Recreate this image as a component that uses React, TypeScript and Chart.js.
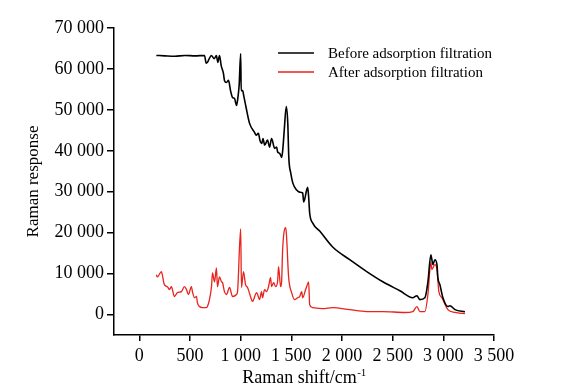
import React, { useEffect, useRef } from "react";
import { Chart, registerables } from "chart.js";

Chart.register(...registerables);

const FONT = "'Liberation Serif', 'Times New Roman', serif";

const seriesLabels = ["Before adsorption filtration", "After adsorption filtration"];
const seriesColors = ["#000000", "#e8221c"];

const xTicks = [0, 500, 1000, 1500, 2000, 2500, 3000, 3500];
const yTicks = [0, 10000, 20000, 30000, 40000, 50000, 60000, 70000];

const beforeShift = [
  168, 250, 350, 450, 550, 643, 660, 672, 690, 710, 740, 760, 775, 791, 808, 830, 840, 860, 880,
  900, 920, 939, 959, 969, 985, 1000, 1005, 1020, 1030, 1055, 1088, 1137, 1153, 1175, 1190, 1210,
  1220, 1237, 1265, 1285, 1305, 1335, 1355, 1365, 1385, 1405, 1415, 1430, 1450, 1465, 1475, 1495,
  1515, 1553, 1582, 1612, 1622, 1651, 1661, 1671, 1681, 1710, 1780, 1908, 2076, 2244, 2403, 2571,
  2699, 2739, 2768, 2818, 2848, 2877, 2897, 2917, 2937, 2946, 2966, 2996, 3045, 3065, 3115, 3213,
];
const beforeValues = [
  63300, 63200, 63100, 63300, 63200, 63300, 61400, 61600, 62500, 63300, 62500, 63300, 61600, 63300,
  60800, 58900, 57200, 56700, 57200, 54700, 53000, 52800, 51100, 52300, 56000, 63700, 54700, 54700,
  53500, 50400, 46700, 44500, 43800, 44300, 42600, 41800, 43000, 41400, 42600, 40900, 43000, 40600,
  40900, 39700, 39400, 38400, 40100, 45000, 50800, 46700, 38400, 34500, 32100, 30400, 29900, 29700,
  27500, 30400, 31100, 28700, 24800, 22400, 20400, 16500, 13400, 10500, 8000, 5800, 4100, 4600,
  3650, 4100, 8000, 14600, 12200, 13400, 12200, 9000, 7300, 4100, 1950, 2150, 1200, 700,
];

const afterShift = [
  168, 178, 218, 227, 247, 277, 297, 316, 346, 376, 415, 445, 465, 484, 514, 524, 544, 564, 573,
  593, 623, 662, 672, 692, 712, 722, 742, 761, 771, 791, 811, 821, 840, 860, 890, 920, 959, 969,
  1000, 1008, 1028, 1048, 1068, 1107, 1117, 1157, 1167, 1186, 1206, 1216, 1236, 1256, 1275, 1295,
  1305, 1325, 1345, 1364, 1374, 1394, 1404, 1414, 1445, 1453, 1473, 1503, 1532, 1562, 1582, 1602,
  1612, 1641, 1651, 1671, 1681, 1710, 1809, 1908, 2076, 2244, 2403, 2620, 2699, 2739, 2768, 2818,
  2848, 2877, 2887, 2917, 2937, 2956, 2986, 3045, 3115, 3213,
];
const afterValues = [
  9700, 9200, 10500, 9700, 7300, 6800, 6100, 6800, 4400, 5350, 5600, 6800, 6100, 4900, 6800, 5600,
  4100, 4400, 2900, 1950, 1700, 1700, 1950, 3650, 6800, 10200, 8000, 11400, 6800, 9200, 8000, 7800,
  5600, 4900, 6600, 4400, 4900, 5600, 20900, 6600, 10500, 7300, 6600, 3650, 3200, 5350, 4900, 3650,
  5600, 4100, 6100, 5600, 6800, 9000, 6800, 7800, 6800, 8000, 11700, 6800, 8000, 15800, 21200,
  19000, 9200, 5350, 3650, 4100, 4400, 5600, 4100, 6100, 6800, 8000, 2400, 1700, 1450, 1700, 1200,
  730, 730, 500, 730, 1950, 730, 730, 4900, 12700, 11000, 12200, 11000, 5600, 4100, 1200, 500, 250,
];

const fmt = (v: number) => String(v).replace(/\B(?=(\d{3})+(?!\d))/g, " ");

const annotPlugin = {
  id: "annot",
  afterDraw(chart: any) {
    const { ctx, chartArea: a } = chart;
    ctx.save();
    // legend
    chart.data.datasets.forEach((ds: any, i: number) => {
      const y = a.top + 25 + i * 19;
      ctx.strokeStyle = ds.borderColor;
      ctx.lineWidth = 1.5;
      ctx.beginPath();
      ctx.moveTo(a.left + 164, y);
      ctx.lineTo(a.left + 200, y);
      ctx.stroke();
      ctx.fillStyle = "#000";
      ctx.font = `15px ${FONT}`;
      ctx.textAlign = "left";
      ctx.textBaseline = "middle";
      ctx.fillText(ds.label, a.left + 214, y + 1);
    });
    // x title with superscript
    const base = "Raman shift/cm";
    const sup = "-1";
    ctx.font = `18px ${FONT}`;
    const w1 = ctx.measureText(base).width;
    ctx.font = `11px ${FONT}`;
    const w2 = ctx.measureText(sup).width;
    const sx = (a.left + a.right) / 2 - (w1 + w2) / 2;
    const by = 383;
    ctx.textBaseline = "alphabetic";
    ctx.textAlign = "left";
    ctx.font = `18px ${FONT}`;
    ctx.fillText(base, sx, by);
    ctx.font = `11px ${FONT}`;
    ctx.fillText(sup, sx + w1 + 0.5, by - 7);
    // y title
    ctx.translate(34, (a.top + a.bottom) / 2);
    ctx.rotate(-Math.PI / 2);
    ctx.font = `17px ${FONT}`;
    ctx.textAlign = "center";
    ctx.textBaseline = "middle";
    ctx.fillText("Raman response", 0, 0);
    ctx.restore();
  },
};

export default function App() {
  const ref = useRef<HTMLCanvasElement | null>(null);
  useEffect(() => {
    if (!ref.current) return;
    const mk = (xs: number[], ys: number[]) => xs.map((x, i) => ({ x, y: ys[i] }));
    const chart = new Chart(ref.current, {
      type: "line",
      data: {
        datasets: [
          {
            label: seriesLabels[0],
            data: mk(beforeShift, beforeValues),
            borderColor: seriesColors[0],
            borderWidth: 1.6,
            pointRadius: 0,
            cubicInterpolationMode: "monotone",
          },
          {
            label: seriesLabels[1],
            data: mk(afterShift, afterValues),
            borderColor: seriesColors[1],
            borderWidth: 1.3,
            pointRadius: 0,
            cubicInterpolationMode: "monotone",
          },
        ],
      },
      options: {
        animation: false,
        responsive: false,
        devicePixelRatio: 1,
        layout: { padding: { left: 0, top: 28, right: 72, bottom: 0 } },
        plugins: { legend: { display: false }, tooltip: { enabled: false } },
        scales: {
          x: {
            type: "linear",
            min: -250,
            max: 3500,
            afterBuildTicks: (s: any) => {
              s.ticks = xTicks.map((v) => ({ value: v }));
            },
            afterFit: (s: any) => {
              s.height = 54;
            },
            grid: { display: true, drawOnChartArea: false, drawTicks: true, tickLength: 6, color: "#000", lineWidth: 1.5 },
            border: { display: true, color: "#000", width: 1.5 },
            ticks: {
              autoSkip: false,
              maxRotation: 0,
              padding: 4,
              color: "#000",
              font: { family: FONT, size: 18 },
              callback: (v: any) => fmt(Number(v)),
            },
          },
          y: {
            type: "linear",
            min: -5000,
            max: 70000,
            afterBuildTicks: (s: any) => {
              s.ticks = yTicks.map((v) => ({ value: v }));
            },
            afterFit: (s: any) => {
              s.width = 114;
            },
            grid: { display: true, drawOnChartArea: false, drawTicks: true, tickLength: 7, color: "#000", lineWidth: 1.5 },
            border: { display: true, color: "#000", width: 1.5 },
            ticks: {
              autoSkip: false,
              padding: 3,
              color: "#000",
              font: { family: FONT, size: 18 },
              callback: (v: any) => fmt(Number(v)),
            },
          },
        },
      },
      plugins: [annotPlugin],
    } as any);
    return () => chart.destroy();
  }, []);
  return (
    <div style={{ position: "fixed", left: 0, top: 0, width: 566, height: 389, background: "#fff" }}>
      <canvas ref={ref} width={566} height={389} style={{ display: "block" }} />
    </div>
  );
}
